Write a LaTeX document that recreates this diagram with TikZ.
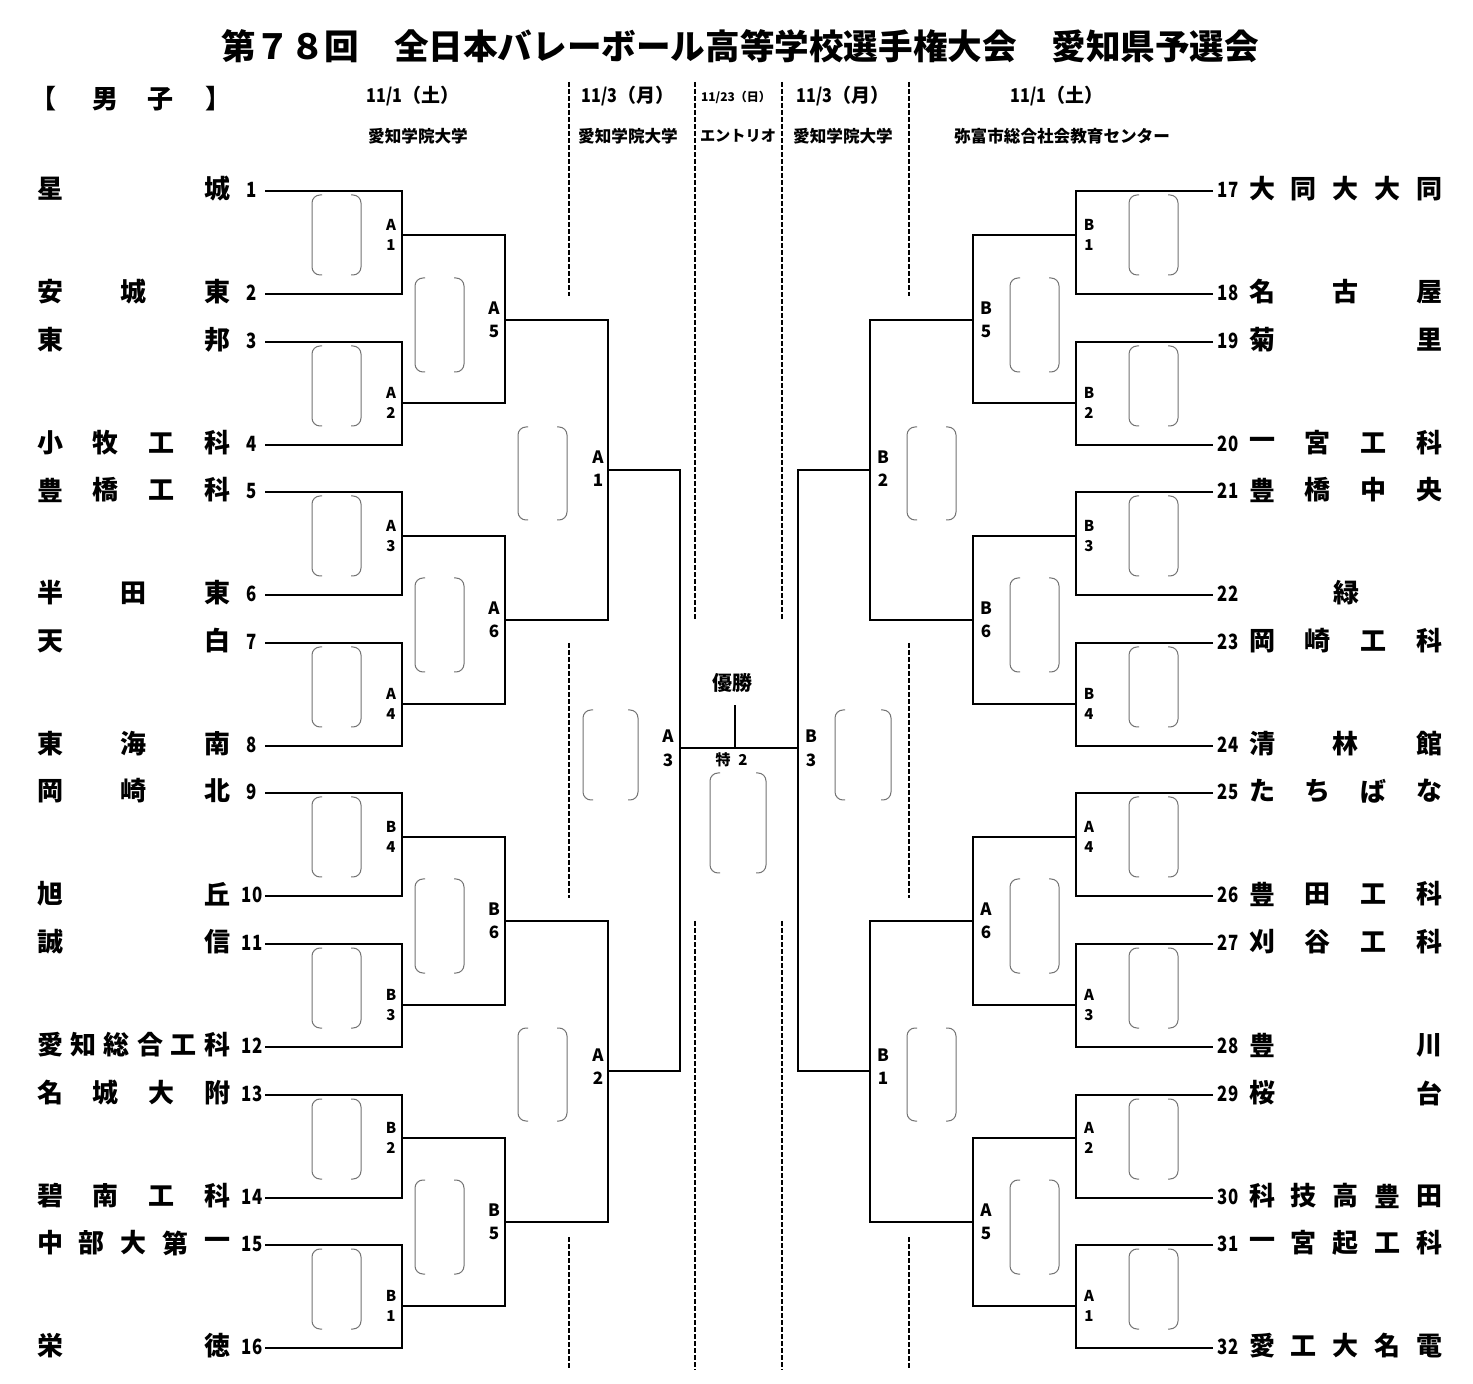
\documentclass[tikz,border=0pt]{standalone}
\usepackage{fontspec}
\setmainfont{Noto Sans CJK JP}
\begin{document}
\begin{tikzpicture}[x=0.5pt,y=-0.5pt,
  br/.style={line width=1pt, black},
  sepline/.style={line width=0.6pt, black, dash pattern=on 2.5pt off 1pt},
  paren/.style={line width=0.5pt, black!55, rounded corners=4pt},
  tname/.style={font=\fontsize{13}{13}\selectfont\bfseries, inner sep=0pt},
  tnum/.style={font=\fontsize{10.5}{10.5}\selectfont\bfseries, inner sep=0pt},
  labone/.style={font=\fontsize{7.5}{7.5}\selectfont\bfseries, inner sep=0pt},
  labtwo/.style={font=\fontsize{8.5}{8.5}\selectfont\bfseries, inner sep=0pt},
  datetxt/.style={font=\fontsize{9.5}{9.5}\selectfont\bfseries, inner sep=0pt},
  venuetxt/.style={font=\fontsize{8.3}{8.3}\selectfont\bfseries, inner sep=0pt}]
\useasboundingbox (0,0) rectangle (1473,1384);
\fill[white] (0,0) rectangle (1473,1384);

\newcommand\parenpair[4]{%
  \draw[paren] ({#1+10},#3) -- (#1,#3) -- (#1,#4) -- ({#1+10},#4);
  \draw[paren] ({#2-10},#3) -- (#2,#3) -- (#2,#4) -- ({#2-10},#4);}
\newcommand\spreadtext[5]{%
  \foreach \c [count=\i from 0] in {#5} {\node[tname] at ({#2+\i*(#3-#2)/(#1-1)},#4) {\c};}}
\newcommand\numtxt[3]{\node[tnum] at (#1,#2) {\scalebox{0.8}[1]{#3}};}

% title and header
\node[font=\fontsize{17.3}{17.3}\selectfont\bfseries, inner sep=0pt] (title) at (740,46) {第７８回　全日本バレーボール高等学校選手権大会　愛知県予選会};
\node[tname] (hb1) at (43,99) {【};
\node[tname] (hb2) at (105,99) {男};
\node[tname] (hb3) at (160,99) {子};
\node[tname] (hb4) at (218,99) {】};

\node[datetxt] (d1) at (413,96) {\scalebox{0.85}[1]{11/1}（土）};
\node[datetxt] (d2) at (628,96) {\scalebox{0.85}[1]{11/3}（月）};
\node[font=\fontsize{6}{6}\selectfont\bfseries, inner sep=0pt] (d3) at (736,97) {11/23（日）};
\node[datetxt] (d4) at (843,96) {\scalebox{0.85}[1]{11/3}（月）};
\node[datetxt] (d5) at (1057,96) {\scalebox{0.85}[1]{11/1}（土）};

\node[venuetxt] (v1) at (418,136) {愛知学院大学};
\node[venuetxt] (v2) at (628,136) {愛知学院大学};
\node[font=\fontsize{7.6}{7.6}\selectfont\bfseries, inner sep=0pt] (v3) at (738,136) {エントリオ};
\node[venuetxt] (v4) at (843,136) {愛知学院大学};
\node[venuetxt] (v5) at (1062,136) {弥富市総合社会教育センター};

% dashed separators
\foreach \xx in {569,909} {
  \draw[sepline] (\xx,82) -- (\xx,296);
  \draw[sepline] (\xx,643) -- (\xx,898);
  \draw[sepline] (\xx,1237) -- (\xx,1370);}
\foreach \xx in {695,782} {
  \draw[sepline] (\xx,82) -- (\xx,620);
  \draw[sepline] (\xx,921) -- (\xx,1370);}

% first round
\foreach \a/\b in {191/294, 342/445, 492/595, 643/746, 793/896, 944/1047, 1095/1198, 1245/1348} {
  \draw[br] (265,\a) -- (402,\a) -- (402,\b) -- (265,\b);
  \draw[br] (1213,\a) -- (1076,\a) -- (1076,\b) -- (1213,\b);
  \parenpair{312}{361}{\a+4}{\a+84}
  \parenpair{1129}{1178}{\a+4}{\a+84}
}
% second round
\foreach \a/\b/\m in {235/403/320, 536/704/620, 837/1005/921, 1138/1306/1222} {
  \draw[br] (402,\a) -- (505,\a) -- (505,\b) -- (402,\b);
  \draw[br] (1076,\a) -- (973,\a) -- (973,\b) -- (1076,\b);
  \parenpair{415}{464}{\m-42}{\m+52}
  \parenpair{1010}{1059}{\m-42}{\m+52}
}
% third round
\foreach \a/\b/\m in {320/620/470, 921/1222/1071} {
  \draw[br] (505,\a) -- (608,\a) -- (608,\b) -- (505,\b);
  \draw[br] (973,\a) -- (870,\a) -- (870,\b) -- (973,\b);
  \parenpair{518}{567}{\m-43}{\m+50}
  \parenpair{907}{956}{\m-43}{\m+50}
}
% semifinal
\draw[br] (608,470) -- (680,470) -- (680,1071) -- (608,1071);
\draw[br] (870,470) -- (798,470) -- (798,1071) -- (870,1071);
\parenpair{583}{638}{710}{800}
\parenpair{835}{891}{710}{800}
% final
\draw[br] (680,748) -- (798,748);
\draw[br] (735,748) -- (735,705);
\parenpair{710}{766}{773}{873}
\node[font=\fontsize{10}{10}\selectfont\bfseries, inner sep=0pt] (win) at (732,683) {優勝};
\node[labone] (sp1) at (723,760) {特};
\node[labone] (sp2) at (743,760) {2};

% match labels
\foreach \o/\l/\d in {235/A/1, 403/A/2, 536/A/3, 704/A/4, 837/B/4, 1005/B/3, 1138/B/2, 1306/B/1} {
  \node[labone] at (391,\o-10) {\l}; \node[labone] at (391,\o+10) {\d};}
\foreach \o/\l/\d in {235/B/1, 403/B/2, 536/B/3, 704/B/4, 837/A/4, 1005/A/3, 1138/A/2, 1306/A/1} {
  \node[labone] at (1089,\o-10) {\l}; \node[labone] at (1089,\o+10) {\d};}
\foreach \o/\l/\d in {320/A/5, 620/A/6, 921/B/6, 1222/B/5} {
  \node[labtwo] at (494,\o-12) {\l}; \node[labtwo] at (494,\o+11) {\d};}
\foreach \o/\l/\d in {320/B/5, 620/B/6, 921/A/6, 1222/A/5} {
  \node[labtwo] at (986,\o-12) {\l}; \node[labtwo] at (986,\o+11) {\d};}
\node[labtwo] at (598,457) {A}; \node[labtwo] at (598,480) {1};
\node[labtwo] at (598,1055) {A}; \node[labtwo] at (598,1078) {2};
\node[labtwo] at (883,457) {B}; \node[labtwo] at (883,480) {2};
\node[labtwo] at (883,1055) {B}; \node[labtwo] at (883,1078) {1};
\node[labtwo] at (668,736) {A}; \node[labtwo] at (668,760) {3};
\node[labtwo] at (811,736) {B}; \node[labtwo] at (811,760) {3};

% left teams
\spreadtext{2}{50}{217}{189}{星,城}
\spreadtext{3}{50}{217}{292}{安,城,東}
\spreadtext{2}{50}{217}{340}{東,邦}
\spreadtext{4}{50}{217}{443}{小,牧,工,科}
\spreadtext{4}{50}{217}{490}{豊,橋,工,科}
\spreadtext{3}{50}{217}{593}{半,田,東}
\spreadtext{2}{50}{217}{641}{天,白}
\spreadtext{3}{50}{217}{744}{東,海,南}
\spreadtext{3}{50}{217}{791}{岡,崎,北}
\spreadtext{2}{50}{217}{894}{旭,丘}
\spreadtext{2}{50}{217}{942}{誠,信}
\spreadtext{6}{50}{217}{1045}{愛,知,総,合,工,科}
\spreadtext{4}{50}{217}{1093}{名,城,大,附}
\spreadtext{4}{50}{217}{1196}{碧,南,工,科}
\spreadtext{5}{50}{217}{1243}{中,部,大,第,一}
\spreadtext{2}{50}{217}{1346}{栄,徳}
% right teams
\spreadtext{5}{1262}{1429}{189}{大,同,大,大,同}
\spreadtext{3}{1262}{1429}{292}{名,古,屋}
\spreadtext{2}{1262}{1429}{340}{菊,里}
\spreadtext{4}{1262}{1429}{443}{一,宮,工,科}
\spreadtext{4}{1262}{1429}{490}{豊,橋,中,央}
\node[tname] at (1346,593) {緑};
\spreadtext{4}{1262}{1429}{641}{岡,崎,工,科}
\spreadtext{3}{1262}{1429}{744}{清,林,館}
\spreadtext{4}{1262}{1429}{791}{た,ち,ば,な}
\spreadtext{4}{1262}{1429}{894}{豊,田,工,科}
\spreadtext{4}{1262}{1429}{942}{刈,谷,工,科}
\spreadtext{2}{1262}{1429}{1045}{豊,川}
\spreadtext{2}{1262}{1429}{1093}{桜,台}
\spreadtext{5}{1262}{1429}{1196}{科,技,高,豊,田}
\spreadtext{5}{1262}{1429}{1243}{一,宮,起,工,科}
\spreadtext{5}{1262}{1429}{1346}{愛,工,大,名,電}

% numbers
\foreach \n/\y in {1/191,2/294,3/342,4/445,5/492,6/595,7/643,8/746,9/793,10/896,11/944,12/1047,13/1095,14/1198,15/1245,16/1348} {
  \numtxt{252}{\y-1}{\n}}
\foreach \n/\y in {17/191,18/294,19/342,20/445,21/492,22/595,23/643,24/746,25/793,26/896,27/944,28/1047,29/1095,30/1198,31/1245,32/1348} {
  \numtxt{1228}{\y-1}{\n}}
\end{tikzpicture}
\end{document}
